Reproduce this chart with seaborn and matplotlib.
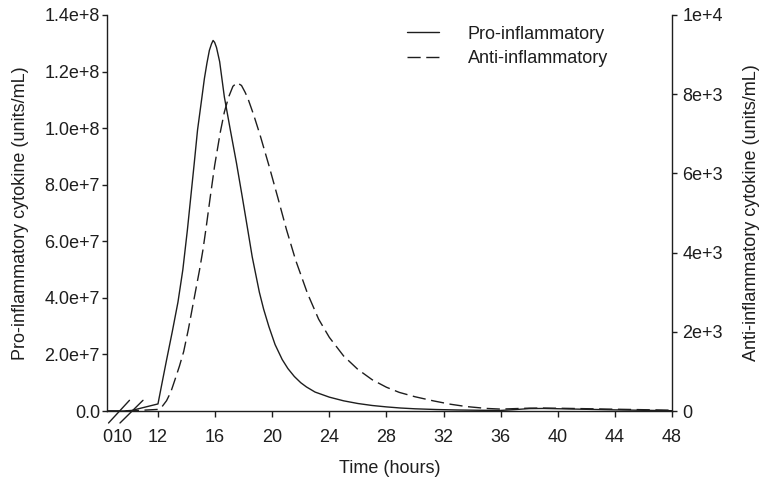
import numpy as np
import pandas as pd
import matplotlib
matplotlib.use("Agg")
import matplotlib.pyplot as plt
import seaborn as sns

# ---- data ----
pro_t = [0, 10, 10.5, 12.0, 12.3, 12.6, 13.0, 13.4, 13.74, 14.06, 14.3, 14.54, 14.77, 15.08, 15.25,
         15.43, 15.6, 15.75, 15.86, 15.97, 16.1, 16.32, 16.65, 17.07, 17.5, 17.9, 18.29, 18.6,
         18.9, 19.1, 19.4, 19.77, 20.2, 20.7, 21.1, 21.55, 22.0, 22.4, 23.0, 24.0, 25.0, 26.0,
         27.0, 28.0, 29.0, 30.0, 31.5, 33.0, 34.5, 36, 37, 38, 39, 40, 42, 44, 46, 48]
pro_v = [0, 0, 2e5, 2.5e6, 1.03e7, 1.8e7, 2.8e7, 3.85e7, 4.99e7, 6.4e7, 7.58e7, 8.76e7, 9.93e7, 1.11e8, 1.175e8,
         1.23e8, 1.275e8, 1.298e8, 1.31e8, 1.303e8, 1.285e8, 1.235e8, 1.11e8, 9.93e7, 8.76e7, 7.58e7, 6.4e7, 5.45e7,
         4.7e7, 4.2e7, 3.6e7, 2.98e7, 2.35e7, 1.82e7, 1.5e7, 1.22e7, 1.0e7, 8.5e6, 6.7e6, 4.9e6, 3.6e6, 2.65e6,
         1.95e6, 1.45e6, 1.05e6, 7.8e5, 5.2e5, 3.6e5, 2.6e5, 2.0e5, 5e5, 8.5e5, 9e5, 8e5, 6e5, 4e5, 2.5e5, 1e5]

anti_t = [0, 10, 10.5, 12.0, 12.25, 12.6, 12.9, 13.18, 13.5, 13.8, 14.13, 14.5, 14.91, 15.15, 15.38,
          15.66, 15.97, 16.37, 16.65, 16.95, 17.25, 17.54, 17.85, 18.1, 18.29, 18.7, 19.14, 19.77,
          20.4, 21.0, 21.65, 22.47, 23.25, 24.0, 25.0, 26.0, 27.0, 28.0, 28.9, 30.0, 31.3, 32.5,
          33.6, 35, 36, 37, 38, 39, 40, 42, 44, 46, 48]
anti_v = [0, 0, 5, 40, 93, 260, 480, 780, 1130, 1500, 2065, 2780, 3561, 4070, 4650,
          5400, 6200, 7050, 7550, 7930, 8200, 8290, 8220, 8050, 7900, 7480, 6980, 6200,
          5380, 4580, 3800, 2970, 2320, 1860, 1390, 1050, 790, 600, 470, 360, 255, 170,
          112, 65, 48, 60, 72, 74, 70, 58, 45, 33, 20]

x_ticks = [0, 10, 12, 16, 20, 24, 28, 32, 36, 40, 44, 48]
left_ticks = [0, 2e7, 4e7, 6e7, 8e7, 1e8, 1.2e8, 1.4e8]
left_labels = ["0.0", "2.0e+7", "4.0e+7", "6.0e+7", "8.0e+7", "1.0e+8", "1.2e+8", "1.4e+8"]
right_ticks = [0, 2e3, 4e3, 6e3, 8e3, 1e4]
right_labels = ["0", "2e+3", "4e+3", "6e+3", "8e+3", "1e+4"]
series_names = ["Pro-inflammatory", "Anti-inflammatory"]

pro_df = pd.DataFrame({"t": pro_t, "v": pro_v})
anti_df = pd.DataFrame({"t": anti_t, "v": anti_v})

# ---- style ----
sns.set_theme(style="white")
plt.rcParams["font.family"] = ["Liberation Sans", "DejaVu Sans"]
plt.rcParams["font.size"] = 13
INK = "#1e1e1e"
plt.rcParams["text.color"] = INK
plt.rcParams["axes.labelcolor"] = INK
plt.rcParams["xtick.color"] = INK
plt.rcParams["ytick.color"] = INK


# broken time axis (0-10 compressed)
def fwd(t):
    t = np.asarray(t, float)
    return np.where(t < 10, t * 0.112, np.where(t < 12, 1.12 + (t - 10) * 1.225, t - 8.43))


def inv(f):
    f = np.asarray(f, float)
    return np.where(f < 1.12, f / 0.112, np.where(f < 3.57, 10 + (f - 1.12) / 1.225, f + 8.43))


fig = plt.figure(figsize=(7.61, 4.80), dpi=100)
fig.subplots_adjust(left=107 / 761, right=672 / 761, bottom=1 - 411 / 480, top=1 - 15 / 480)
ax = fig.add_subplot(111)
ax.set_xscale("function", functions=(fwd, inv))
ax2 = ax.twinx()

sns.lineplot(data=pro_df, x="t", y="v", ax=ax, color=INK, linewidth=1.0, sort=False)
sns.lineplot(data=anti_df, x="t", y="v", ax=ax2, color=INK, linewidth=1.0, sort=False)
l_pro = ax.lines[0]
l_anti = ax2.lines[0]
l_anti.set_dashes([9.5, 4])

ax.set_xlim(0, 48)
ax.set_ylim(0, 1.4e8)
ax2.set_ylim(0, 1e4)

ax.set_xticks(x_ticks)
ax.set_xticklabels([str(v) for v in x_ticks])
ax.set_yticks(left_ticks)
ax.set_yticklabels(left_labels)
ax2.set_yticks(right_ticks)
ax2.set_yticklabels(right_labels)
ax.minorticks_off()

for a in (ax, ax2):
    a.spines["top"].set_visible(False)
    for s in a.spines.values():
        s.set_color(INK)
        s.set_linewidth(1.0)
ax.spines["right"].set_visible(False)
ax2.spines["left"].set_visible(False)
ax2.spines["bottom"].set_visible(False)

ax.tick_params(axis="x", direction="out", length=4.3, width=1.0, pad=8.5, labelsize=13, bottom=True)
ax.tick_params(axis="y", direction="out", length=3.6, width=1.0, pad=1.5, labelsize=13, left=True)
ax2.tick_params(axis="y", direction="out", length=3.6, width=1.0, pad=4, labelsize=13, right=True)
xt = ax.xaxis.get_major_ticks()
xt[0].tick1line.set_visible(False)
xt[1].tick1line.set_visible(False)

ax.set_xlabel("Time (hours)", fontsize=13, labelpad=10)
ax.set_ylabel("Pro-inflammatory cytokine (units/mL)", fontsize=13, labelpad=11)
ax2.set_ylabel("Anti-inflammatory cytokine (units/mL)", fontsize=13, labelpad=14)

# axis-break marks
for x0, x1 in [(0.0027, 0.0398), (0.023, 0.0637)]:
    ax.plot([x0, x1], [-0.0303, 0.027], transform=ax.transAxes, color=INK,
            linewidth=1.0, clip_on=False)

leg = ax2.legend([l_pro, l_anti], series_names, loc="upper left",
                 bbox_to_anchor=(0.531, 0.973), frameon=False, borderpad=0,
                 borderaxespad=0, handlelength=1.75, handletextpad=1.6,
                 labelspacing=0.41, fontsize=13)

fig.savefig("out.png", dpi=100)
